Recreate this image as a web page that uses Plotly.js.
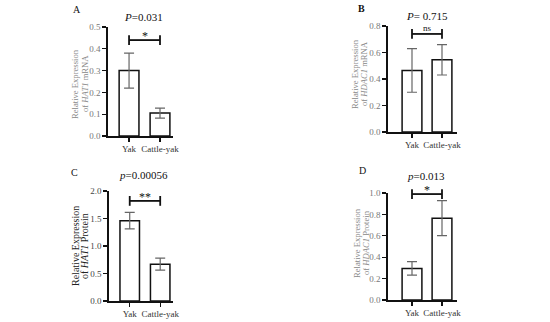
<!DOCTYPE html>
<html>
<head>
<meta charset="utf-8">
<script src="https://cdn.plot.ly/plotly-3.0.1.min.js"></script>
<style>html,body{margin:0;padding:0;background:#fff;}#chart{width:550px;height:322px;}</style>
</head>
<body>
<div id="chart"></div>
<script>
const categories = ['Yak', 'Cattle-yak'];
const hat1Mrna = [0.30, 0.105];
const hat1MrnaErr = [0.08, 0.023];
const hdac1Mrna = [0.465, 0.545];
const hdac1MrnaErr = [0.165, 0.115];
const hat1Protein = [1.46, 0.67];
const hat1ProteinErr = [0.15, 0.11];
const hdac1Protein = [0.295, 0.765];
const hdac1ProteinErr = [0.063, 0.163];
const bracketY = [0.44, 0.74, 1.82, 0.99];
const sigLabels = ['*', 'ns', '**', '*'];
const pLabels = ['<i>P</i>=0.031', '<i>P</i>= 0.715', '<i>p</i>=0.00056', '<i>p</i>=0.013'];
const panelLetters = ['A', '<b>B</b>', 'C', 'D'];
const yTitleLine1 = ['Relative Expression', 'Relative Expression', 'Relative Expression', 'Relative Expression'];
const yTitleLine2 = ['of <i>HAT1</i> mRNA', 'of <i>HDAC1</i> mRNA', 'of <i>HAT1</i> Protein', 'of <i>HDAC1</i> Protein'];
const yRanges = [[0, 0.5], [0, 0.8], [0, 2.0], [0, 1.0]];
const yDtick = [0.1, 0.2, 0.5, 0.2];

const W = 550, H = 322;
const px = v => v / W;
const py = v => 1 - v / H;

const panels = [
  {x0: 108, x1: 173, yTop: 27, yBot: 136, xr: [-0.68, 1.42], tick: '#777', tf: 9, tt: 8.6, ttc: '#888', t1: 75, t2: 85, ty: 84, lx: 77, ly: 10, px: 143, pyy: 17, bw: 0.64, gap: 10},
  {x0: 388, x1: 457, yTop: 26, yBot: 132, xr: [-0.8, 1.5], tick: '#777', tf: 9, tt: 8.6, ttc: '#888', t1: 355, t2: 364, ty: 74, lx: 361, ly: 8, px: 427, pyy: 16, bw: 0.66, gap: 10},
  {x0: 109, x1: 173, yTop: 191, yBot: 301, xr: [-0.68, 1.42], tick: '#444', tf: 9, tt: 10, ttc: '#222', t1: 75, t2: 84, ty: 246, lx: 74, ly: 172, px: 143, pyy: 175, bw: 0.64, gap: 10},
  {x0: 388, x1: 457, yTop: 193, yBot: 300, xr: [-0.8, 1.5], tick: '#777', tf: 9, tt: 8.6, ttc: '#888', t1: 357, t2: 366, ty: 243, lx: 362, ly: 171, px: 426, pyy: 176, bw: 0.66, gap: 10}
];
const values = [hat1Mrna, hdac1Mrna, hat1Protein, hdac1Protein];
const errs = [hat1MrnaErr, hdac1MrnaErr, hat1ProteinErr, hdac1ProteinErr];
const FONT = 'Liberation Serif, Times New Roman, serif';

const data = [];
const layout = {
  width: W, height: H,
  margin: {l: 0, r: 0, t: 0, b: 0},
  paper_bgcolor: '#fff', plot_bgcolor: 'rgba(0,0,0,0)',
  showlegend: false,
  font: {family: FONT, color: '#000'},
  annotations: []
};

panels.forEach((p, i) => {
  const sfx = i === 0 ? '' : String(i + 1);
  const xa = 'x' + sfx, ya = 'y' + sfx;
  data.push({
    type: 'bar', x: categories, y: values[i], xaxis: xa, yaxis: ya,
    width: p.bw,
    marker: {color: '#fff', line: {color: '#111', width: 1.5}},
    error_y: {type: 'data', array: errs[i], visible: true, color: '#666', thickness: 1.2, width: 5},
    hoverinfo: 'none'
  });
  data.push({
    type: 'scatter', mode: 'lines+markers', x: categories, y: [bracketY[i], bracketY[i]],
    xaxis: xa, yaxis: ya,
    line: {color: '#111', width: 1.8},
    marker: {symbol: 'line-ns-open', size: 7, line: {color: '#111', width: 1.8}},
    hoverinfo: 'none', cliponaxis: false
  });
  layout['xaxis' + sfx] = {
    domain: [px(p.x0), px(p.x1)], anchor: ya, range: p.xr,
    type: 'category', showline: true, linecolor: '#111', linewidth: 1.6,
    ticks: 'outside', ticklen: 4, tickwidth: 1.3, tickcolor: '#111',
    showgrid: false, zeroline: false,
    tickfont: {family: FONT, size: 9, color: '#333'}, fixedrange: true
  };
  layout['yaxis' + sfx] = {
    domain: [py(p.yBot), py(p.yTop)], anchor: xa, range: yRanges[i],
    showline: true, linecolor: '#111', linewidth: 1.6,
    ticks: 'outside', ticklen: 4, tickwidth: 1.3, tickcolor: '#111',
    dtick: yDtick[i], tick0: 0, tickformat: '.1f',
    showgrid: false, zeroline: false,
    tickfont: {family: FONT, size: p.tf, color: p.tick}, fixedrange: true
  };
  const isNs = sigLabels[i] === 'ns';
  layout.annotations.push({
    xref: xa, yref: ya, x: 0.5, y: bracketY[i], text: sigLabels[i],
    showarrow: false, yanchor: 'middle', yshift: isNs ? 6 : 4,
    font: {family: FONT, size: isNs ? 9 : 12, color: '#111'}
  });
  layout.annotations.push({
    xref: 'paper', yref: 'paper', x: px(p.px), y: py(p.pyy), text: pLabels[i],
    showarrow: false, xanchor: 'center', yanchor: 'middle',
    font: {family: FONT, size: 11, color: '#111'}
  });
  layout.annotations.push({
    xref: 'paper', yref: 'paper', x: px(p.lx), y: py(p.ly), text: panelLetters[i],
    showarrow: false, xanchor: 'center', yanchor: 'middle',
    font: {family: FONT, size: 10, color: '#111'}
  });
  layout.annotations.push({
    xref: 'paper', yref: 'paper', x: px(p.t1), y: py(p.ty), text: yTitleLine1[i],
    showarrow: false, xanchor: 'center', yanchor: 'middle', textangle: -90,
    font: {family: FONT, size: p.tt, color: p.ttc}
  });
  layout.annotations.push({
    xref: 'paper', yref: 'paper', x: px(p.t2), y: py(p.ty), text: yTitleLine2[i],
    showarrow: false, xanchor: 'center', yanchor: 'middle', textangle: -90,
    font: {family: FONT, size: p.tt, color: p.ttc}
  });
});

Plotly.newPlot('chart', data, layout, {displayModeBar: false, staticPlot: true});
</script>
</body>
</html>
